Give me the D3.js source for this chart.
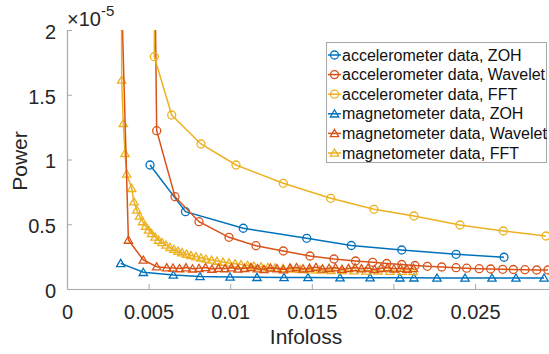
<!DOCTYPE html>
<html><head><meta charset="utf-8">
<script src="https://cdn.jsdelivr.net/npm/d3@7"></script>
<style>
html,body{margin:0;padding:0;background:#fff;}
svg{display:block;font-family:"Liberation Sans",Arial,Helvetica,sans-serif;}
</style></head>
<body><svg id="c" width="549" height="354"></svg>
<script>
// ---- data (Power in units of 1e-5) ----
const seriesNames = ["accelerometer data, ZOH","accelerometer data, Wavelet","accelerometer data, FFT",
  "magnetometer data, ZOH","magnetometer data, Wavelet","magnetometer data, FFT"];
const xTicks = [0,0.005,0.01,0.015,0.02,0.025];
const xTickLabels = ["0","0.005","0.01","0.015","0.02","0.025"];
const yTicks = [0,0.5,1,1.5,2];
const yTickLabels = ["0","0.5","1","1.5","2"];

const accZohX = [0.005086,0.00726,0.0108,0.01469,0.01742,0.02051,0.02384,0.02678];
const accZohY = [0.9575,0.597,0.469,0.3915,0.336,0.301,0.268,0.245];

const accWavX = [0.00537,0.005496,0.006618,0.008088,0.009926,0.011581,0.013254,0.01489,0.01636,0.01768,0.01873,0.01959,0.02051,0.02132,0.02208,0.02296,0.02384,0.02449,0.02526,0.02596,0.02670,0.02735,0.02806,0.02878,0.02947];
const accWavY = [2.6,1.2224,0.7127,0.5197,0.3992,0.3344,0.2934,0.2548,0.2317,0.2162,0.2062,0.1969,0.1892,0.1815,0.1753,0.1699,0.1645,0.1606,0.1568,0.1544,0.1521,0.1506,0.149,0.1467,0.1467];

const accFftX = [0.00535,0.00535,0.006415,0.00821,0.010355,0.013254,0.016158,0.018811,0.021262,0.024081,0.026734,0.02935];
const accFftY = [2.6,1.794,1.3436,1.1197,0.9575,0.8162,0.7004,0.6154,0.5637,0.4942,0.4479,0.4093];

const magZohX = [0.00329,0.004675,0.006513,0.00815,0.00999,0.01164,0.0133,0.01477,0.01673,0.01857,0.0204,0.02126,0.02267,0.02439,0.02604,0.02751,0.02923];
const magZohY = [0.198,0.129,0.108,0.0965,0.0927,0.0903,0.0888,0.0888,0.0873,0.0873,0.0865,0.0865,0.085,0.085,0.085,0.085,0.085];

const magWavX = [0.00327,0.003762,0.004675,0.005496,0.006109,0.006495,0.006893,0.007292,0.00769,0.008088,0.008487,0.008885,0.009283,0.009681,0.01008,0.010478,0.010876,0.011275,0.011673,0.012071,0.012469,0.012868,0.013266,0.013664,0.014063,0.014461,0.014859,0.015257,0.015656,0.016054,0.016452,0.01685,0.017249,0.017647,0.018045,0.018444,0.018842,0.01924,0.019638,0.020037,0.020435,0.020833,0.021232];
const magWavY = [2.6,0.378,0.224,0.172,0.1645,0.162,0.158,0.165,0.156,0.16,0.166,0.154,0.161,0.158,0.164,0.155,0.16,0.167,0.157,0.152,0.162,0.158,0.15,0.163,0.166,0.156,0.161,0.168,0.155,0.16,0.164,0.153,0.159,0.166,0.157,0.162,0.151,0.16,0.165,0.156,0.161,0.154,0.159];

const magFftX = [0.00333,0.003352,0.00345,0.003554,0.003658,0.003964,0.004105,0.004271,0.004442,0.004626,0.00481,0.004994,0.005178,0.005392,0.005607,0.005821,0.006066,0.006311,0.006556,0.006801,0.007047,0.007322,0.007598,0.007904,0.008211,0.008517,0.008854,0.009191,0.009559,0.009926,0.010294,0.010662,0.01106,0.011458,0.011887,0.012316,0.012745,0.013235,0.013725,0.014277,0.01489,0.015502,0.016176,0.01685,0.017586,0.018321,0.019056,0.019792,0.020527,0.021201];
const magFftY = [2.5,1.614,1.2795,1.0479,0.888,0.7776,0.674,0.61,0.564,0.521,0.486,0.456,0.429,0.402,0.378,0.359,0.34,0.322,0.307,0.293,0.281,0.27,0.26,0.25,0.241,0.232,0.224,0.216,0.208,0.2015,0.1954,0.1892,0.183,0.1776,0.1722,0.1676,0.1629,0.1591,0.1552,0.1521,0.149,0.1467,0.1444,0.1429,0.1413,0.1398,0.139,0.1382,0.1375,0.1367];

const colors = ["#0072BD","#D95319","#EDB120","#0072BD","#D95319","#EDB120"];
const markers = ["circle","circle","circle","tri","tri","tri"];

const series = [
  {x:accZohX,y:accZohY},{x:accWavX,y:accWavY},{x:accFftX,y:accFftY},
  {x:magZohX,y:magZohY},{x:magWavX,y:magWavY},{x:magFftX,y:magFftY}
].map((s,i)=>({name:seriesNames[i],color:colors[i],marker:markers[i],pts:s.x.map((v,j)=>[v,s.y[j]])}));

// ---- layout ----
const svg = d3.select("#c");
const L=67, R=556.6, T=30, B=289;
const x = d3.scaleLinear().domain([0,0.03]).range([L,R]);
const y = d3.scaleLinear().domain([0,2]).range([B,T]);
const axisCol="#a3aab0", textCol="#262626";

svg.append("defs").append("clipPath").attr("id","clip")
  .append("rect").attr("x",L).attr("y",T).attr("width",R-L).attr("height",B-T);

// axes
const yAxis = d3.axisLeft(y).tickValues(yTicks).tickFormat((d,i)=>yTickLabels[i]).tickSizeInner(-5).tickSizeOuter(0).tickPadding(11);
const gy = svg.append("g").attr("transform",`translate(${L},0)`).call(yAxis);
const xAxis = d3.axisBottom(x).tickValues(xTicks).tickFormat((d,i)=>xTickLabels[i]).tickSizeInner(-5).tickSizeOuter(0).tickPadding(16);
const gx = svg.append("g").attr("transform",`translate(0,${B})`).call(xAxis);
[gx,gy].forEach(g=>{
  g.select(".domain").attr("stroke",axisCol).attr("stroke-width",1.2);
  g.selectAll(".tick line").attr("stroke",axisCol);
  g.selectAll(".tick text").attr("fill",textCol).attr("font-size",20).attr("font-family","Liberation Sans, Arial, sans-serif");
});
gx.selectAll(".tick").filter(d=>d===0).select("line").remove();
gy.selectAll(".tick").filter(d=>d===0).select("line").remove();
gy.selectAll(".tick text").attr("dy","0.42em");

// labels
svg.append("text").attr("x",306).attr("y",344).attr("text-anchor","middle")
  .attr("font-size",21).attr("fill",textCol).text("Infoloss");
svg.append("text").attr("transform","translate(26.5,161) rotate(-90)").attr("text-anchor","middle")
  .attr("font-size",21).attr("fill",textCol).text("Power");
const ex = svg.append("text").attr("x",67).attr("y",26).attr("font-size",20).attr("fill",textCol);
ex.append("tspan").text("×10");
ex.append("tspan").attr("dy",-10).attr("font-size",15).text("-5");

// plot
const plot = svg.append("g").attr("clip-path","url(#clip)");
const line = d3.line().x(d=>x(d[0])).y(d=>y(d[1]));
const tri = d3.symbol().type(d3.symbolTriangle).size(30);
const drawOrder = [0,1,2,3,5,4];
drawOrder.forEach(i=>{
  const s = series[i];
  const g = plot.append("g");
  g.append("path").attr("d",line(s.pts)).attr("fill","none").attr("stroke",s.color).attr("stroke-width",1.5);
  if(s.marker==="circle"){
    g.selectAll("circle").data(s.pts).join("circle").attr("cx",d=>x(d[0])).attr("cy",d=>y(d[1])).attr("r",4)
      .attr("fill","none").attr("stroke",s.color).attr("stroke-width",1.3);
  } else {
    g.selectAll("path.m").data(s.pts).join("path").attr("class","m").attr("d",tri)
      .attr("transform",d=>`translate(${x(d[0])},${y(d[1])+0.8})`)
      .attr("fill","none").attr("stroke",s.color).attr("stroke-width",1.3);
  }
});

// legend
const lg = svg.append("g");
lg.append("rect").attr("x",326.5).attr("y",42.5).attr("width",220).attr("height",120)
  .attr("fill","#fff").attr("stroke","#a8a8a8").attr("stroke-width",1);
series.forEach((s,i)=>{
  const cy = 55 + i*19.6;
  lg.append("line").attr("x1",328).attr("x2",341).attr("y1",cy).attr("y2",cy).attr("stroke",s.color).attr("stroke-width",1.5);
  if(s.marker==="circle") lg.append("circle").attr("cx",334.5).attr("cy",cy).attr("r",4).attr("fill","none").attr("stroke",s.color).attr("stroke-width",1.3);
  else lg.append("path").attr("d",tri).attr("transform",`translate(334.5,${cy+0.8})`).attr("fill","none").attr("stroke",s.color).attr("stroke-width",1.3);
  lg.append("text").attr("x",342).attr("y",cy).attr("dy","0.35em").attr("font-size",16).attr("fill","#111").text(s.name);
});
</script></body></html>
